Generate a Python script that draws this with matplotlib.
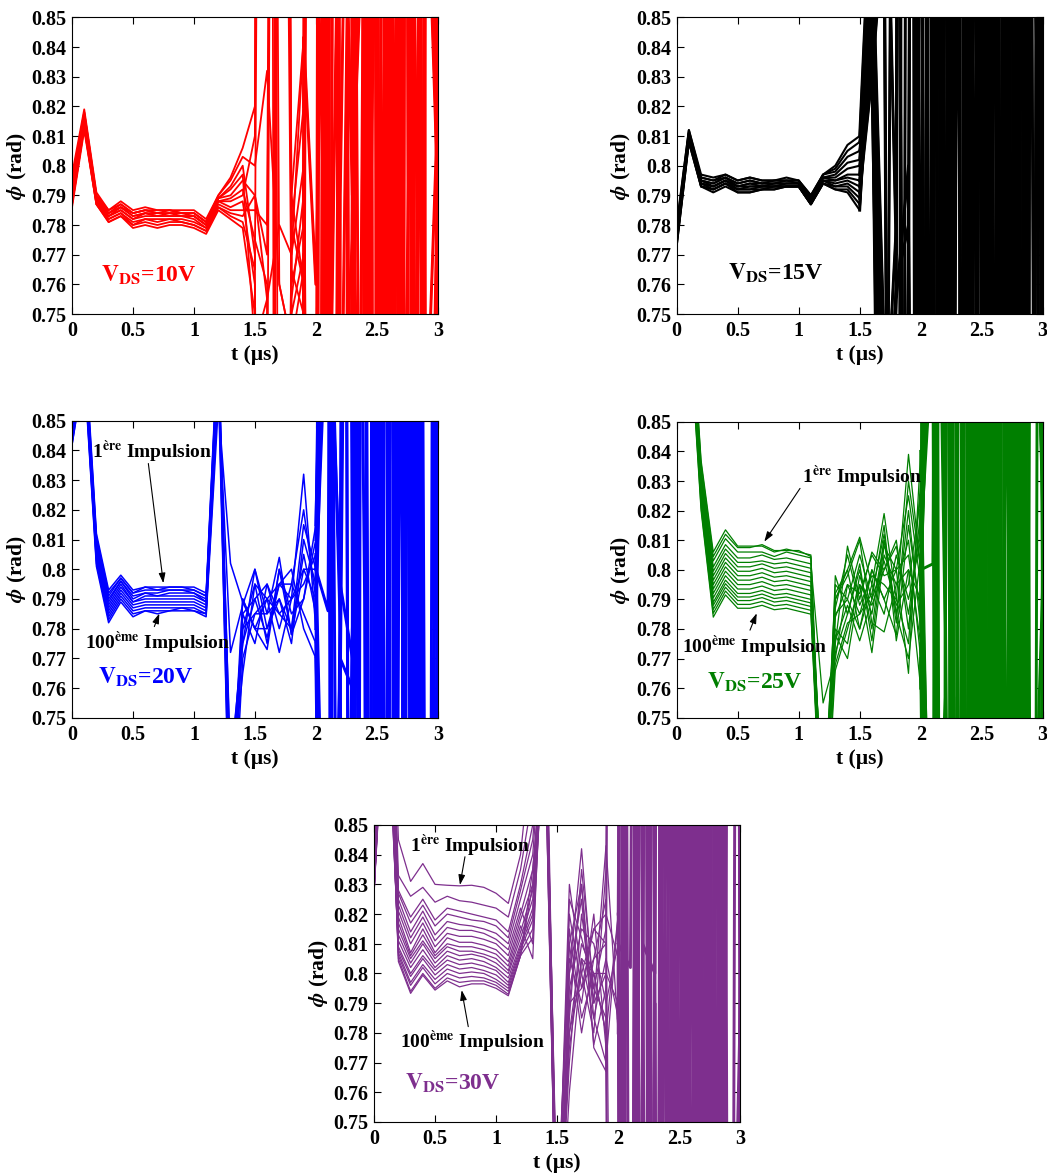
import matplotlib
matplotlib.use("Agg")
import matplotlib.pyplot as plt

plt.rcParams['font.family'] = ['Liberation Serif', 'DejaVu Serif']
plt.rcParams['font.weight'] = 'bold'
plt.rcParams['mathtext.fontset'] = 'stix'

# time axis (µs)
T = [0.0, 0.1, 0.2, 0.3, 0.4, 0.5, 0.6, 0.7, 0.8, 0.9, 1.0, 1.1, 1.2, 1.3, 1.4, 1.5,
     1.6, 1.7, 1.8, 1.9, 2.0, 2.1, 2.2, 2.3, 2.4, 2.5, 2.6, 2.7, 2.8, 2.9, 3.0]

xticks = [0, 0.5, 1, 1.5, 2, 2.5, 3]
xticklabels = ['0', '0.5', '1', '1.5', '2', '2.5', '3']
yticks = [0.75, 0.76, 0.77, 0.78, 0.79, 0.80, 0.81, 0.82, 0.83, 0.84, 0.85]
yticklabels = ['0.75', '0.76', '0.77', '0.78', '0.79', '0.8', '0.81', '0.82', '0.83', '0.84', '0.85']

# V_DS = 10 V (red)
phi_10V = [
 [.797,.819,.791,.785,.788,.785,.786,.785,.785,.785,.785,.782,.790,.796,.806, .820,1.90,-0.30,.790,.843,-0.40,1.00,-1.50,2.50,.60,0.95,-2.00,1.70,.70,3.00,.812],
 [.795,.818,.790,.785,.787,.784,.785,.785,.785,.784,.784,.781,.790,.795,.803, .800,.832,.760,.740,.700,1.80,0.65,2.80,.790,0.90,-1.00,1.10,.20,2.60,0.70,.820],
 [.794,.818,.790,.784,.787,.784,.785,.784,.785,.784,.784,.781,.789,.793,.800, .770,-0.40,1.60,.760,.780,3.00,-0.60,.790,1.05,0.40,2.50,.66,1.00,-1.50,0.92,.790],
 [.793,.817,.789,.784,.786,.784,.785,.784,.784,.784,.784,.781,.789,.792,.797, .740,.755,.780,.770,.843,.760,0.95,-1.30,.780,2.20,.68,0.93,-2.00,1.30,.55,.805],
 [.792,.816,.789,.784,.786,.783,.784,.784,.784,.784,.783,.780,.789,.790,.795, .790,.770,1.70,.780,.760,0.60,2.50,.30,.785,-1.40,0.92,.10,2.60,.60,1.20,.760],
 [.791,.816,.789,.783,.786,.783,.784,.783,.784,.783,.783,.780,.788,.789,.792, .775,.760,-0.30,.755,.790,1.40,.66,0.94,.800,2.90,-0.50,1.60,.62,0.91,-1.30,.830],
 [.790,.815,.788,.783,.785,.782,.784,.783,.783,.783,.783,.780,.788,.788,.790, .810,2.00,.50,.770,.800,.30,2.70,0.70,.775,.20,1.40,-0.20,0.98,-2.00,1.20,.750],
 [.789,.814,.788,.783,.785,.782,.783,.783,.783,.783,.782,.779,.788,.786,.788, .760,-0.50,1.40,.765,.750,1.90,.20,0.96,.790,1.30,-1.50,2.10,.69,2.40,.00,.800],
 [.788,.814,.788,.782,.784,.781,.782,.782,.782,.782,.781,.779,.787,.785,.785, .785,.780,1.20,.750,.770,-1.30,0.91,-0.40,.795,0.63,2.20,-0.10,1.50,0.58,1.05,.840],
 [.787,.813,.787,.782,.784,.780,.782,.781,.782,.781,.780,.778,.786,.784,.783, .790,.755,.00,.780,.820,1.60,0.64,3.00,.760,0.97,.40,1.80,-1.30,0.90,.50,.770],
 [.787,.813,.787,.781,.783,.780,.781,.780,.781,.781,.780,.778,.786,.783,.781, .765,1.50,.760,.740,.765,.00,1.60,.67,0.99,-0.20,2.60,.60,1.90,-0.10,0.93,.815],
 [.786,.812,.787,.781,.783,.779,.780,.779,.780,.780,.779,.777,.785,.782,.779, .750,.700,1.50,.790,.760,2.00,.40,1.70,.30,0.94,-1.10,1.40,0.61,2.50,-0.20,.790],
]

# V_DS = 15 V (black)
phi_15V = [
 [.780,.812,.797,.796,.797,.795,.796,.795,.795,.796,.795,.790,.797,.800,.807,.810, .900,.650, .760,1.80,-0.40,0.95,-1.20,1.90,0.62,3.00,-0.10,0.93,-1.50,1.70,.820],
 [.779,.812,.796,.795,.797,.795,.796,.795,.795,.795,.795,.790,.797,.799,.805,.808, .835,.900, .100,.790,-0.30,2.10,0.66,1.50,.780,1.00,-0.40,2.60,.20,0.92,.760],
 [.778,.811,.796,.795,.796,.794,.795,.794,.795,.795,.795,.789,.797,.798,.803,.805, .840,.700, .780,2.50,.00,0.97,-1.00,2.00,0.60,1.40,.20,2.10,0.68,1.50,.300],
 [.777,.811,.795,.794,.796,.794,.795,.794,.794,.795,.794,.789,.796,.797,.801,.802, .860,.720, -0.20,.770,2.00,0.64,1.90,-1.30,.790,-0.50,0.96,.00,2.60,.10,1.80],
 [.776,.810,.795,.794,.796,.793,.794,.794,.794,.794,.794,.789,.796,.796,.799,.800, .830,.600, .755,.800,-0.50,1.80,.30,0.94,.770,2.10,0.60,1.90,-1.30,0.99,-0.10],
 [.776,.810,.795,.793,.795,.793,.794,.793,.794,.794,.794,.788,.796,.795,.797,.797, .880,.740, .400,1.60,0.66,2.20,-0.10,0.92,.20,2.80,-0.30,1.50,0.63,2.00,.790],
 [.775,.810,.794,.793,.795,.793,.793,.793,.793,.794,.794,.788,.795,.795,.796,.795, .845,.500, 1.20,.20,0.98,-0.30,2.80,.00,1.80,0.69,1.90,-1.40,0.95,-0.40,1.40],
 [.775,.809,.794,.793,.795,.792,.793,.793,.793,.793,.793,.788,.795,.794,.795,.793, .850,.680, .760,.780,.30,1.50,-0.40,2.10,0.67,0.98,.30,1.70,.10,1.60,.200],
 [.774,.809,.794,.792,.794,.792,.792,.793,.793,.793,.793,.787,.795,.793,.794,.791, .830,.880, .100,-0.10,1.50,.10,0.94,.30,2.60,.00,2.20,0.61,1.90,.30,.810],
 [.774,.809,.793,.792,.794,.792,.792,.792,.793,.793,.793,.787,.794,.793,.793,.789, .890,.650, -0.40,1.30,0.63,1.90,.00,1.60,.40,0.95,-1.10,1.40,-0.30,2.70,.500],
 [.773,.808,.793,.792,.794,.791,.791,.792,.792,.793,.793,.787,.794,.792,.792,.787, .845,.950, .770,2.70,.20,1.60,0.65,2.00,-0.20,1.70,.10,0.93,.00,2.20,1.20],
 [.773,.808,.793,.791,.793,.791,.791,.792,.792,.793,.793,.787,.794,.792,.791,.785, .860,.600, .00,.760,1.80,-0.10,1.00,-0.10,1.50,.30,2.60,0.60,2.10,-0.20,.770],
]

# V_DS = 20 V (blue)
phi_20V = [
 [.848,.880,.812,.793,.798,.793,.794,.794,.794,.794,.794,.792,.880,.700,.790,.780,.790,.785,.790,.832, .780,0.95,-0.30,.790,2.90,0.62,1.60,.00,0.94,-1.40,.840],
 [.847,.878,.811,.792,.797,.792,.794,.793,.794,.794,.793,.791,.878,.720,.775,.800,.785,.804,.778,.800, .800,.786,1.60,.20,-0.30,1.70,0.66,2.80,-0.20,1.50,.790],
 [.846,.876,.810,.791,.797,.792,.793,.793,.793,.793,.793,.791,.876,.710,.785,.790,.795,.780,.795,.820, .790,0.60,.770,.760,1.05,.00,2.10,-0.30,2.60,.20,.810],
 [.846,.875,.809,.790,.796,.791,.792,.792,.793,.793,.792,.790,.874,.730,.780,.795,.775,.800,.785,.790, .810,1.10,.50,.780,.20,0.93,-1.30,1.50,0.64,1.90,.760],
 [.845,.874,.808,.789,.796,.790,.792,.791,.792,.792,.792,.789,.872,.690,.770,.785,.790,.795,.800,.780, .770,0.45,1.50,.30,2.10,0.60,1.80,-1.20,0.97,-0.20,1.20],
 [.845,.873,.807,.788,.795,.789,.791,.791,.791,.791,.791,.789,.870,.715,.790,.780,.780,.790,.775,.810, .795,0.90,.795,.770,-1.40,1.40,.30,0.92,-0.40,2.70,.800],
 [.844,.872,.806,.787,.794,.789,.790,.790,.790,.790,.790,.788,.868,.725,.765,.795,.790,.772,.790,.795, .805,0.62,.760,1.20,.790,-0.40,0.96,0.62,1.80,.00,.300],
 [.844,.871,.805,.786,.793,.788,.789,.789,.789,.789,.789,.787,.866,.705,.785,.775,.795,.785,.780,.805, .785,1.20,-0.20,.40,2.80,.10,2.00,.20,1.60,0.65,.830],
 [.843,.870,.804,.785,.792,.787,.788,.788,.788,.788,.788,.786,.864,.735,.775,.790,.777,.795,.795,.785, .775,0.55,1.70,.790,.00,0.98,-0.20,2.70,.30,2.10,.780],
 [.843,.869,.803,.784,.791,.786,.787,.787,.787,.787,.787,.785,.862,.700,.780,.785,.785,.790,.780,.815, .800,0.93,.780,-0.30,1.50,0.67,2.60,-0.40,0.95,.10,1.50],
 [.842,.868,.802,.783,.790,.785,.786,.786,.786,.787,.786,.785,.860,.772,.788,.800,.780,.795,.790,.800, .790,0.30,.800,1.80,-0.40,1.80,.00,1.40,0.61,2.80,.00],
 [.842,.867,.801,.782,.789,.784,.786,.785,.786,.786,.786,.784,.855,.802,.789,.780,.773,.800,.778,.790, .815,0.98,.10,.780,0.99,-0.30,1.70,.30,1.90,-1.30,.790],
]

# V_DS = 25 V (green)
phi_25V = [
 [.960,.900,.837,.806,.8135,.808,.808,.808,.806,.807,.806,.805, .700,.790,.800,.811,.795,.819,.790,.839, .800,0.92,-0.30,.790,2.80,0.63,1.60,.00,0.95,-1.40,.800],
 [.958,.899,.836,.8045,.812,.8075,.8075,.8085,.8065,.8065,.8065,.8045, .710,.775,.808,.790,.806,.800,.810,.780, .820,0.55,1.50,.750,-0.30,1.70,0.66,1.80,-0.20,2.70,.790],
 [.957,.898,.834,.803,.8105,.806,.806,.806,.8045,.806,.805,.804, .690,.798,.785,.800,.780,.810,.785,.820, .780,1.70,.800,.30,1.60,.00,2.10,0.62,1.40,.20,.810],
 [.956,.897,.833,.801,.8085,.804,.804,.805,.8035,.804,.803,.802, .755,.770,.795,.785,.800,.790,.800,.765, .840,0.62,.757,1.60,.20,0.96,-0.30,2.60,.10,1.90,.760],
 [.955,.896,.832,.7995,.807,.8025,.8025,.803,.802,.8025,.8015,.8005, .705,.785,.790,.805,.790,.815,.776,.800, .790,0.95,.20,1.50,0.65,2.10,-0.10,0.94,.10,1.70,1.20],
 [.954,.895,.831,.798,.8055,.801,.801,.802,.8005,.801,.800,.799, .695,.766,.780,.795,.772,.805,.795,.810, .770,0.40,1.80,.780,-0.20,2.60,.30,1.90,0.60,1.60,.800],
 [.953,.894,.830,.7965,.804,.7995,.7995,.8005,.799,.7995,.7985,.7975, .715,.792,.800,.780,.795,.785,.805,.790, .810,0.88,-0.40,.800,1.70,-1.20,0.97,-0.20,1.80,.00,.300],
 [.952,.893,.829,.795,.8025,.798,.798,.799,.7975,.798,.797,.796, .700,.780,.775,.798,.785,.810,.782,.830, .800,.802,1.50,-0.20,.747,1.80,0.68,2.00,.20,0.93,.830],
 [.952,.892,.828,.7935,.801,.7965,.7965,.7975,.796,.7965,.7955,.7945, .720,.787,.805,.788,.798,.795,.790,.775, .830,0.90,.10,1.70,-0.30,0.92,-0.20,1.70,0.64,2.10,.780],
 [.951,.891,.827,.792,.7995,.795,.795,.796,.7945,.795,.794,.793, .690,.772,.785,.802,.776,.808,.800,.805, .775,0.50,1.90,.20,1.50,.40,2.80,-0.40,2.10,.10,1.50],
 [.951,.890,.826,.7905,.798,.7935,.7935,.7945,.793,.7935,.7925,.7915, .705,.795,.790,.780,.800,.790,.778,.815, .785,1.05,.780,-0.10,1.80,0.61,1.80,.00,1.00,-0.30,.00],
 [.950,.889,.825,.789,.7965,.792,.792,.793,.7915,.792,.791,.790, .710,.778,.770,.795,.788,.800,.808,.785, .815,0.66,1.60,.40,1.70,-0.30,0.95,.30,2.70,-0.30,.790],
 [.950,.888,.824,.788,.7953,.7908,.7908,.7918,.7903,.7908,.7898,.7888, .700,.790,.798,.810,.782,.779,.795,.800, .760,1.50,-0.10,1.80,.00,1.60,0.67,1.60,-0.20,0.98,.820],
 [.950,.887,.823,.7866,.7941,.7896,.7896,.7906,.7891,.7896,.7886,.7876, .725,.768,.782,.785,.792,.812,.785,.770, .805,0.60,2.00,.10,2.00,.20,1.90,0.62,1.70,.10,.770],
 [.950,.886,.821,.7853,.7928,.7883,.7883,.7893,.7878,.7883,.7873,.7863, .695,.784,.795,.792,.805,.798,.800,.825, .795,0.93,.30,.757,-0.10,2.70,.20,2.00,-0.30,1.50,1.60],
 [.950,.885,.820,.784,.7915,.787,.787,.788,.7865,.787,.786,.785, .705,.776,.788,.776,.790,.803,.788,.795, .825,0.50,1.40,-0.30,0.96,.00,1.40,.20,1.80,0.66,.795],
]

# V_DS = 30 V (purple)
phi_30V = [
 [.834,.960,.845,.831,.837,.830,.8297,.8295,.8297,.829,.827,.8236,.840,.880,.920,.700, .800,.842,.790,.843, .780,2.00,-0.30,.790,1.80,0.62,1.60,.00,2.80,-0.40,.800],
 [.833,.955,.833,.826,.829,.824,.826,.8245,.824,.823,.822,.819,.835,.860,.910,.690, .780,.810,.800,.780, .820,-0.50,1.50,.780,-0.30,0.96,.10,1.80,-0.20,2.70,.790],
 [.832,.950,.828,.819,.825,.818,.822,.821,.820,.819,.818,.814,.830,.850,.905,.710, .820,.795,.815,.810, -0.30,1.70,.800,.30,1.60,.00,2.10,0.65,1.40,.20,.810],
 [.832,.945,.827,.817,.823,.816,.820,.819,.818,.8175,.816,.812,.828,.845,.900,.680, .790,.830,.775,.767, 1.80,-0.30,.780,1.60,.20,2.00,-0.30,0.94,.10,1.90,.760],
 [.831,.940,.825,.814,.821,.813,.8175,.8165,.816,.815,.8135,.810,.825,.840,.895,.720, .810,.780,.805,.825, .40,1.90,.20,1.50,0.66,2.10,-0.10,1.80,.10,0.97,1.20],
 [.831,.935,.823,.812,.819,.811,.8155,.8145,.8145,.8135,.8115,.808,.822,.810,.890,.695, .770,.820,.790,.800, .790,.40,1.80,.780,-0.20,1.40,.30,1.90,0.61,1.60,.800],
 [.830,.930,.821,.810,.817,.809,.8135,.8125,.8125,.8115,.810,.806,.820,.835,.885,.705, .830,.800,.780,.835, 1.60,-0.40,.810,.800,2.80,-0.40,0.93,-0.20,1.80,.00,.300],
 [.830,.925,.819,.807,.815,.807,.812,.8105,.8105,.8095,.808,.804,.818,.830,.880,.690, .795,.815,.810,.790, .810,.802,1.50,-0.20,.770,1.80,.10,2.60,0.63,1.60,.830],
 [.829,.920,.817,.806,.813,.806,.810,.809,.809,.808,.8065,.8025,.816,.805,.900,.715, .805,.790,.820,.775, -0.20,2.10,.10,1.70,-0.30,0.95,-0.20,1.70,.30,2.10,.780],
 [.829,.915,.815,.805,.811,.805,.809,.8075,.8075,.8065,.805,.801,.814,.828,.895,.700, .785,.835,.795,.815, 1.90,-0.20,1.90,.20,1.50,0.68,1.60,-0.40,2.10,.10,1.50],
 [.828,.910,.813,.8035,.810,.8035,.8075,.806,.8065,.8055,.8035,.800,.812,.825,.890,.685, .760,.805,.785,.805, .785,1.80,.780,-0.10,1.80,-0.30,2.70,.00,0.99,-0.30,.00],
 [.828,.905,.811,.802,.808,.802,.806,.8045,.805,.804,.802,.7985,.810,.822,.885,.710, .815,.785,.800,.780, .30,.00,1.60,.40,0.92,-0.30,1.70,.30,1.90,0.60,.790],
 [.828,.900,.809,.800,.806,.801,.8045,.803,.8035,.8025,.801,.797,.809,.820,.880,.695, .800,.825,.776,.795, 1.50,-0.10,.790,1.80,.00,1.60,0.64,1.60,-0.20,1.80,.820],
 [.827,.900,.808,.799,.805,.7995,.803,.8015,.802,.801,.7995,.796,.808,.818,.900,.705, .780,.800,.815,.820, .805,-0.40,2.00,.10,2.00,.20,1.90,-0.10,0.96,.10,.770],
 [.827,.905,.807,.797,.803,.798,.8015,.800,.8005,.800,.798,.795,.807,.815,.895,.690, .825,.812,.795,.785, -0.40,1.70,.30,.790,-0.10,2.60,.20,0.93,-0.30,1.50,1.60],
 [.827,.910,.806,.796,.802,.7965,.800,.7985,.799,.7985,.797,.794,.806,.812,.890,.700, .790,.795,.805,.810, 1.70,.50,1.40,-0.30,1.60,.00,1.40,0.67,1.80,-0.10,.795],
 [.826,.915,.805,.794,.800,.795,.7985,.797,.7975,.7975,.796,.793,.806,.830,.885,.715, .810,.830,.785,.770, .820,1.60,-0.20,1.50,.00,1.80,-0.30,1.70,.00,1.90,.810],
 [.826,.920,.804,.7933,.7994,.7944,.7975,.7955,.7965,.7965,.795,.7925,.806,.835,.880,.695, .775,.805,.800,.800, .00,1.50,.820,-0.20,1.90,.10,0.95,-0.20,1.50,.30,.760],
]

panels = [
    dict(data=phi_10V, color='#FF0000', label='=10V', pos=[0.0688, 0.7323, 0.3493, 0.2529],
         lab_xy=(0.24, 0.7609), lw=1.3, chaos_from=19),
    dict(data=phi_15V, color='#000000', label='=15V', pos=[0.6463, 0.7323, 0.3496, 0.2529],
         lab_xy=(0.42, 0.7615), lw=1.5, chaos_from=15),
    dict(data=phi_20V, color='#0000FF', label='=20V', pos=[0.0688, 0.3881, 0.3493, 0.2532],
         lab_xy=(0.21, 0.7616), lw=1.1, chaos_from=20),
    dict(data=phi_25V, color='#007F00', label='=25V', pos=[0.6463, 0.3881, 0.3496, 0.2523],
         lab_xy=(0.25, 0.7599), lw=0.9, chaos_from=20),
    dict(data=phi_30V, color='#7E2F8E', label='=30V', pos=[0.3572, 0.0435, 0.3499, 0.2532],
         lab_xy=(0.25, 0.7608), lw=0.9, chaos_from=20),
]

# annotation placements: (text, text_xy, arrow_start, arrow_end)
annots = {
    2: [(r'1$^{\mathbf{ère}}$ Impulsion', (0.16, 0.8374), (0.626, 0.8356), (0.749, 0.7953)),
        (r'100$^{\mathbf{ème}}$ Impulsion', (0.107, 0.7730), (0.675, 0.7807), (0.716, 0.7851))],
    3: [(r'1$^{\mathbf{ère}}$ Impulsion', (1.025, 0.8292), (1.011, 0.8275), (0.718, 0.8095)),
        (r'100$^{\mathbf{ème}}$ Impulsion', (0.041, 0.7718), (0.601, 0.7796), (0.656, 0.7853))],
    4: [(r'1$^{\mathbf{ère}}$ Impulsion', (0.295, 0.8410), (0.745, 0.8393), (0.704, 0.8298)),
        (r'100$^{\mathbf{ème}}$ Impulsion', (0.213, 0.7748), (0.772, 0.7821), (0.718, 0.7944))],
}

fig = plt.figure(figsize=(10.47, 11.73), dpi=100)

for i, p in enumerate(panels):
    ax = fig.add_axes(p['pos'])
    k = p['chaos_from']
    for curve in p['data']:
        ax.plot(T, curve, color=p['color'], lw=p['lw'])
        # the wildly oscillating tail, drawn heavier as in the original figure
        ax.plot(T[k:], curve[k:], color=p['color'], lw=2.1)
    ax.set_xlim(0, 3)
    ax.set_ylim(0.75, 0.85)
    ax.set_xticks(xticks, xticklabels)
    ax.set_yticks(yticks, yticklabels)
    ax.tick_params(direction='in', top=True, right=True, length=5, width=0.8, labelsize=14.5)
    ax.tick_params(axis='x', pad=5)
    ax.tick_params(axis='y', pad=4)
    for s in ax.spines.values():
        s.set_linewidth(0.8)
    ax.set_xlabel('t (µs)', fontsize=15.5, fontweight='bold', labelpad=3)
    ax.set_ylabel(r'$\phi$ (rad)', fontsize=15.5, fontweight='bold', labelpad=2)
    ax.text(p['lab_xy'][0], p['lab_xy'][1], r'$\mathbf{V_{DS}}$' + p['label'],
            color=p['color'], fontsize=17, fontweight='bold', va='baseline', ha='left')
    for txt, txy, a0, a1 in annots.get(i, []):
        ax.text(txy[0], txy[1], txt, fontsize=14, fontweight='bold', color='k',
                va='baseline', ha='left')
        ax.annotate('', xy=a1, xytext=a0,
                    arrowprops=dict(arrowstyle='-|>,head_width=0.2,head_length=0.6',
                                    color='k', lw=0.8, shrinkA=0, shrinkB=0))

fig.savefig('out.png', dpi=100)
